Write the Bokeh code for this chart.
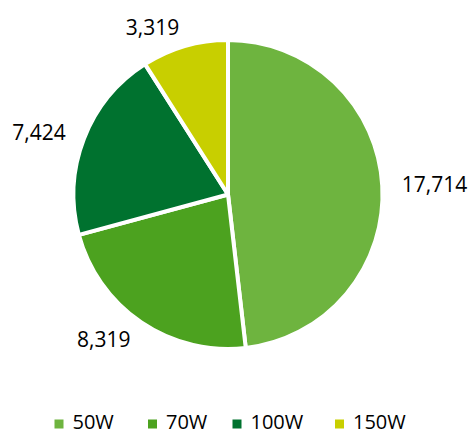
import math
from bokeh.plotting import figure
from bokeh.models import Range1d, ColumnDataSource
from bokeh.core.properties import value
from bokeh.embed import file_html
from bokeh.resources import INLINE

categories = ["50W", "70W", "100W", "150W"]
counts = [17714, 8319, 7424, 3319]
labels = ["17,714", "8,319", "7,424", "3,319"]
colors = ["#6eb43f", "#4ca21f", "#00722f", "#c8cf00"]

W, H = 468, 433
FONT = "Open Sans"

p = figure(width=W, height=H, output_backend="svg", toolbar_location=None,
           x_range=Range1d(0, W), y_range=Range1d(0, H),
           min_border=0)
p.axis.visible = False
p.grid.visible = False
p.outline_line_color = None
p.background_fill_color = "white"
p.border_fill_color = "white"

cx, cy = 227.5, H - 194
r = 154.5
total = float(sum(counts))
starts, ends, lx, ly, align = [], [], [], [], []
cum = 0.0
for c in counts:
    a0 = cum / total * 2 * math.pi
    cum += c
    a1 = cum / total * 2 * math.pi
    starts.append(math.pi / 2 - a0)
    ends.append(math.pi / 2 - a1)
    mid = (a0 + a1) / 2
    rl = 174
    dx = rl * math.sin(mid)
    dy = rl * math.cos(mid)
    lx.append(cx + dx)
    ly.append(cy + dy)
    align.append("left" if dx > 0 else "right")

src = ColumnDataSource(dict(start=starts, end=ends, color=colors, cat=categories))
p.wedge(x=cx, y=cy, radius=r, start_angle="start", end_angle="end", direction="clock",
        fill_color="color", line_color="white", line_width=4, source=src)

lsrc = ColumnDataSource(dict(x=lx, y=ly, text=labels, align=align))
p.text(x="x", y="y", text="text", text_align="align", text_baseline="middle",
       text_font=value(FONT), text_font_size="21px", text_color="#000000", source=lsrc)

# legend
leg_x = [58.5, 152, 236.5, 339]
leg_y = H - 420.5
p.scatter(x=leg_x, y=[H - 423.5] * 4, marker="square", size=9, fill_color=colors, line_color=None)
p.text(x=[x + 13.5 for x in leg_x], y=[leg_y] * 4, text=categories, text_align="left",
       text_baseline="middle", text_font=value(FONT), text_font_size="20px", text_color="#000000")

open("out.html", "w").write(file_html(p, INLINE))
